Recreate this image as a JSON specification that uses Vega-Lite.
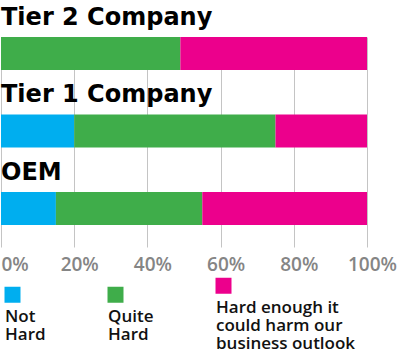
{
  "$schema": "https://vega.github.io/schema/vega-lite/v6.json",
  "width": 366,
  "height": 210,
  "autosize": {"type": "none"},
  "padding": {"left": 1, "top": 37, "right": 33, "bottom": 115},
  "background": "white",
  "config": {"view": {"stroke": null}},
  "data": {
    "values": [
      {"company": "Tier 2 Company", "level": "Not Hard", "rank": 1, "share": 0},
      {"company": "Tier 2 Company", "level": "Quite Hard", "rank": 2, "share": 49},
      {"company": "Tier 2 Company", "level": "Hard enough it could harm our business outlook", "rank": 3, "share": 51},
      {"company": "Tier 1 Company", "level": "Not Hard", "rank": 1, "share": 20},
      {"company": "Tier 1 Company", "level": "Quite Hard", "rank": 2, "share": 55},
      {"company": "Tier 1 Company", "level": "Hard enough it could harm our business outlook", "rank": 3, "share": 25},
      {"company": "OEM", "level": "Not Hard", "rank": 1, "share": 15},
      {"company": "OEM", "level": "Quite Hard", "rank": 2, "share": 40},
      {"company": "OEM", "level": "Hard enough it could harm our business outlook", "rank": 3, "share": 45}
    ]
  },
  "layer": [
    {
      "mark": {"type": "bar"},
      "encoding": {
        "y": {
          "field": "company",
          "type": "nominal",
          "sort": ["Tier 2 Company", "Tier 1 Company", "OEM"],
          "axis": null,
          "scale": {"paddingInner": 0.574, "paddingOuter": 0.142, "align": 0}
        },
        "x": {
          "field": "share",
          "type": "quantitative",
          "stack": "zero",
          "scale": {"domain": [0, 100], "nice": false},
          "axis": {
            "orient": "bottom",
            "values": [0, 20, 40, 60, 80, 100],
            "domain": false,
            "ticks": false,
            "grid": true,
            "gridColor": "#c4c4c4",
            "gridWidth": 1,
            "labelExpr": "datum.value + '%'",
            "labelFont": "Open Sans",
            "labelFontSize": 19,
            "labelFontWeight": 600,
            "labelColor": "#858585",
            "labelPadding": 8,
            "labelBaseline": "top",
            "labelFlush": false,
            "labelOverlap": false,
            "labelOffset": {"condition": {"test": "datum.value === 0", "value": 0}, "value": 5},
            "labelAlign": {"condition": {"test": "datum.value === 0", "value": "left"}, "value": "center"},
            "title": null
          }
        },
        "order": {"field": "rank", "type": "quantitative", "sort": "ascending"},
        "color": {
          "field": "level",
          "type": "nominal",
          "sort": ["Not Hard", "Quite Hard", "Hard enough it could harm our business outlook"],
          "scale": {
            "domain": ["Not Hard", "Quite Hard", "Hard enough it could harm our business outlook"],
            "range": ["#00aeef", "#3fad4a", "#ec008c"]
          },
          "legend": {
            "orient": "none",
            "legendX": 3,
            "legendY": 240,
            "direction": "horizontal",
            "columns": 3,
            "title": null,
            "padding": 0,
            "symbolType": "square",
            "symbolSize": 256,
            "symbolStrokeWidth": 0,
            "symbolOpacity": 1,
            "labelFont": "Open Sans",
            "labelFontSize": 17,
            "labelFontWeight": 600,
            "labelColor": "#111111",
            "labelOffset": -16,
            "labelBaseline": "alphabetic",
            "labelLimit": 200,
            "columnPadding": 61,
            "labelExpr": "datum.label == 'Not Hard' ? ['Not', 'Hard'] : datum.label == 'Quite Hard' ? ['Quite', 'Hard'] : ['Hard enough it', 'could harm our', 'business outlook']",
            "encode": {
              "labels": {
                "update": {
                  "dy": {"value": 27},
                  "lineHeight": {"value": 18}
                }
              }
            }
          }
        }
      }
    },
    {
      "transform": [
        {"aggregate": [{"op": "sum", "field": "share", "as": "total"}], "groupby": ["company"]}
      ],
      "mark": {
        "type": "text",
        "align": "left",
        "baseline": "alphabetic",
        "dy": -12,
        "font": "DejaVu Sans",
        "fontWeight": "bold",
        "fontSize": 24,
        "color": "#000000"
      },
      "encoding": {
        "y": {
          "field": "company",
          "type": "nominal",
          "sort": ["Tier 2 Company", "Tier 1 Company", "OEM"],
          "bandPosition": 0
        },
        "x": {"datum": 0, "type": "quantitative"},
        "text": {"field": "company"}
      }
    }
  ]
}
